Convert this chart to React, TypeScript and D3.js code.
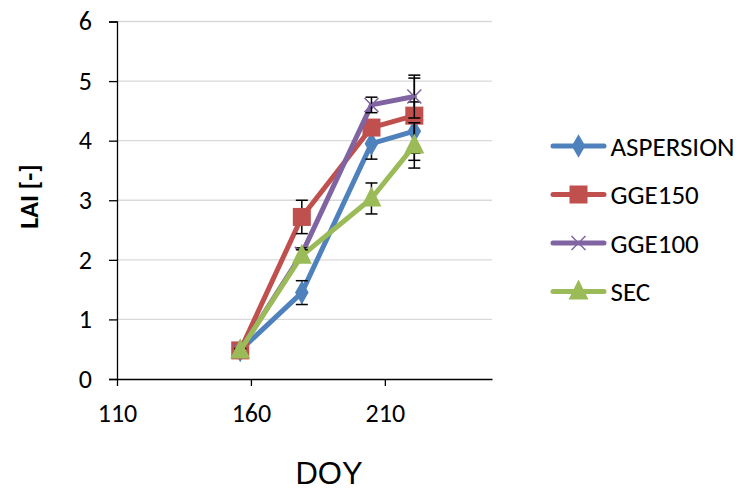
import React, { useEffect, useRef } from 'react';
import * as d3 from 'd3';

// DOY of each sampling date
const doy = [156, 179, 205, 221];
const seriesNames = ['ASPERSION', 'GGE150', 'GGE100', 'SEC'];
const seriesColors = ['#4F81BD', '#C0504D', '#8064A2', '#9BBB59'];
const asperison = [0.48, 1.45, 3.95, 4.16];
const gge150 = [0.48, 2.72, 4.22, 4.42];
const gge100 = [0.48, 2.1, 4.6, 4.74];
const sec = [0.48, 2.07, 3.03, 3.92];
// standard deviations (error bar half length)
const errAsp = [0.03, 0.2, 0.26, 0.49];
const err150 = [0.03, 0.28, 0.1, 0.63];
const err100 = [0.03, 0.1, 0.13, 0.36];
const errSec = [0.03, 0.1, 0.26, 0.38];
const yTicks = [0, 1, 2, 3, 4, 5, 6];
const xTicks = [110, 160, 210];

const App = () => {
  const svgRef = useRef<SVGSVGElement>(null);

  useEffect(() => {
    const svg = d3.select(svgRef.current);
    svg.selectAll('*').remove();
    const font = 'Carlito, Calibri, Lato, sans-serif';

    const x = d3.scaleLinear().domain([110, 250]).range([117, 492]);
    const y = d3.scaleLinear().domain([0, 6]).range([379, 21.5]);

    // gridlines
    svg.append('g')
      .selectAll('line')
      .data(yTicks.filter((d) => d > 0))
      .enter()
      .append('line')
      .attr('x1', x(110))
      .attr('x2', x(250))
      .attr('y1', (d) => y(d))
      .attr('y2', (d) => y(d))
      .attr('stroke', '#d9d9d9')
      .attr('stroke-width', 1.3);

    // y axis
    const yAxis = svg.append('g')
      .attr('transform', `translate(${x(110)},0)`)
      .call(d3.axisLeft(y).tickValues(yTicks).tickSize(8).tickPadding(17).tickFormat(d3.format('d')));
    yAxis.select('.domain').attr('stroke', '#000').attr('stroke-width', 1.3);
    yAxis.selectAll('.tick line').attr('stroke', '#000').attr('stroke-width', 1.3);
    yAxis.selectAll('text').style('font-family', font).style('font-size', '26px').attr('fill', '#000');

    // x axis
    const xAxis = svg.append('g')
      .attr('transform', `translate(0,${y(0)})`)
      .call(d3.axisBottom(x).tickValues(xTicks).tickSize(7).tickSizeOuter(0));
    xAxis.select('.domain').attr('stroke', '#000').attr('stroke-width', 1.3);
    xAxis.selectAll('.tick line').attr('stroke', '#000').attr('stroke-width', 1.3);
    xAxis.selectAll('text')
      .attr('y', 42.5)
      .attr('dy', 0)
      .style('font-family', font)
      .style('font-size', '26px')
      .attr('fill', '#000');

    // axis titles
    svg.append('text')
      .attr('x', 329)
      .attr('y', 484)
      .attr('text-anchor', 'middle')
      .style('font-family', '"Liberation Sans", Arial, sans-serif')
      .style('font-size', '31px')
      .text('DOY');
    svg.append('text')
      .attr('transform', `translate(38,196.5) rotate(-90)`)
      .attr('text-anchor', 'middle')
      .style('font-family', font)
      .style('font-size', '26px')
      .style('font-weight', 'bold')
      .text('LAI [-]');

    const allValues = [asperison, gge150, gge100, sec];
    const allErr = [errAsp, err150, err100, errSec];
    const line = d3.line<number>().x((d, i) => x(doy[i])).y((d) => y(d));

    const drawMarker = (g: any, k: number, cx: number, cy: number) => {
      const c = seriesColors[k];
      if (k === 0) {
        g.append('path').attr('d', d3.symbol(d3.symbolDiamond, 160)()).attr('transform', `translate(${cx},${cy})`).attr('fill', c);
      } else if (k === 1) {
        g.append('rect').attr('x', cx - 9).attr('y', cy - 9).attr('width', 18).attr('height', 18).attr('fill', c);
      } else if (k === 2) {
        g.append('path')
          .attr('d', `M${cx - 7},${cy - 7}L${cx + 7},${cy + 7}M${cx - 7},${cy + 7}L${cx + 7},${cy - 7}`)
          .attr('stroke', c)
          .attr('stroke-width', 1.5);
      } else {
        g.append('path').attr('d', `M${cx},${cy - 12}L${cx + 10},${cy + 8}L${cx - 10},${cy + 8}Z`).attr('fill', c);
      }
    };

    allValues.forEach((vals, k) => {
      const g = svg.append('g');
      g.append('path')
        .attr('d', line(vals))
        .attr('fill', 'none')
        .attr('stroke', seriesColors[k])
        .attr('stroke-width', 5)
        .attr('stroke-linejoin', 'round')
        .attr('stroke-linecap', 'round');
      // error bars
      vals.forEach((v, i) => {
        const e = allErr[k][i];
        const cx = x(doy[i]);
        g.append('line').attr('x1', cx).attr('x2', cx).attr('y1', y(v + e)).attr('y2', y(v - e)).attr('stroke', '#000').attr('stroke-width', 1.5);
        [v + e, v - e].forEach((w) => {
          g.append('line').attr('x1', cx - 6).attr('x2', cx + 6).attr('y1', y(w)).attr('y2', y(w)).attr('stroke', '#000').attr('stroke-width', 1.5);
        });
      });
      vals.forEach((v, i) => drawMarker(g, k, x(doy[i]), y(v)));
    });

    // legend
    const legend = svg.append('g');
    seriesNames.forEach((name, k) => {
      const ly = 146 + k * 48.5;
      legend.append('line')
        .attr('x1', 553).attr('x2', 604).attr('y1', ly).attr('y2', ly)
        .attr('stroke', seriesColors[k]).attr('stroke-width', 5).attr('stroke-linecap', 'round');
      drawMarker(legend, k, 578.5, ly);
      legend.append('text')
        .attr('x', 610.5)
        .attr('y', ly + 9.5)
        .style('font-family', font)
        .style('font-size', '27px')
        .text(name);
    });
  }, []);

  return (
    <svg ref={svgRef} width={737} height={491} style={{ position: 'absolute', left: 0, top: 0, background: '#fff' }} />
  );
};

export default App;
